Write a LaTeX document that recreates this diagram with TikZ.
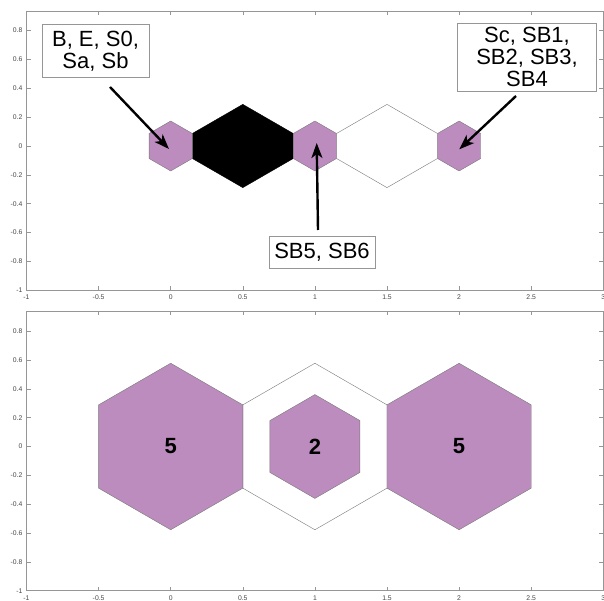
\documentclass[tikz,border=0pt]{standalone}
\usepackage{fontspec}
\setmainfont{Liberation Sans}
\usetikzlibrary{arrows.meta}
\definecolor{hexpink}{RGB}{189,140,191}
\definecolor{axgray}{RGB}{150,150,150}
\definecolor{labgray}{RGB}{70,70,70}
\definecolor{edgegray}{RGB}{120,120,120}
\tikzset{
  axisline/.style={draw=axgray, line width=0.5pt},
  ticklab/.style={font=\fontsize{6.8}{7.5}\selectfont, text=labgray, inner sep=0pt},
  pinkhex/.style={fill=hexpink, draw=edgegray, line width=0.4pt},
  whitehex/.style={fill=white, draw=edgegray, line width=0.4pt},
  blackhex/.style={fill=black, draw=black, line width=0.4pt},
  annot/.style={draw=axgray, fill=white, line width=0.6pt, align=center,
    font=\fontsize{22}{22}\selectfont, inner sep=0pt},
  pointer/.style={line width=2.4pt, -{Stealth[length=15pt,width=11pt,inset=4pt]}},
  numlab/.style={font=\fontsize{22}{22}\selectfont\bfseries, inner sep=0pt},
}
\newcommand{\myaxesframe}[1]{%
  \draw[axisline] (-1,-1) rectangle (3,0.937);
  \foreach \t [count=\i] in {-1,-0.5,0,0.5,1,1.5,2,2.5,3}{
    \draw[axisline] (\t,-1) -- ++(0,0.028) (\t,0.937) -- ++(0,-0.028);
    \node[ticklab, anchor=north] (#1x\i) at ([yshift=-4.5pt]\t,-1) {\t};
  }
  \foreach \v [count=\i] in {-1,-0.8,-0.6,-0.4,-0.2,0,0.2,0.4,0.6,0.8}{
    \draw[axisline] (-1,\v) -- ++(0.028,0) (3,\v) -- ++(-0.028,0);
    \node[ticklab, anchor=east] (#1y\i) at ([xshift=-4pt]-1,\v) {\v};
  }
}
\begin{document}
\begin{tikzpicture}[x=1pt,y=-1pt]
\useasboundingbox (0,0) rectangle (604,601);
\fill[white] (0,0) rectangle (604,601);

% ---------- top plot ----------
\begin{scope}[shift={(170.7pt,-146pt)}, x=144.2pt, y=144.2pt]
  \myaxesframe{t}
  \draw[blackhex] (0.15,0.0866) -- (0.5,0.2887) -- (0.85,0.0866) -- (0.85,-0.0866) -- (0.5,-0.2887) -- (0.15,-0.0866) -- cycle;
  \draw[whitehex] (1.15,0.0866) -- (1.5,0.2887) -- (1.85,0.0866) -- (1.85,-0.0866) -- (1.5,-0.2887) -- (1.15,-0.0866) -- cycle;
  \foreach \c in {0,1,2}{
    \draw[pinkhex] ({\c+0.15},0.0866) -- (\c,0.1732) -- ({\c-0.15},0.0866) -- ({\c-0.15},-0.0866) -- (\c,-0.1732) -- ({\c+0.15},-0.0866) -- cycle;
  }
\end{scope}

% ---------- bottom plot ----------
\begin{scope}[shift={(170.7pt,-446.5pt)}, x=144.2pt, y=144.2pt]
  \myaxesframe{b}
  \draw[whitehex] (1.5,0.2887) -- (1,0.5774) -- (0.5,0.2887) -- (0.5,-0.2887) -- (1,-0.5774) -- (1.5,-0.2887) -- cycle;
  \foreach \c in {0,2}{
    \draw[pinkhex] ({\c+0.5},0.2887) -- (\c,0.5774) -- ({\c-0.5},0.2887) -- ({\c-0.5},-0.2887) -- (\c,-0.5774) -- ({\c+0.5},-0.2887) -- cycle;
  }
  \draw[pinkhex] (1.3118,0.18) -- (1,0.36) -- (0.6882,0.18) -- (0.6882,-0.18) -- (1,-0.36) -- (1.3118,-0.18) -- cycle;
  \node[numlab] (n5a) at (0,0) {5};
  \node[numlab] (n2) at (1,0) {2};
  \node[numlab] (n5b) at (2,0) {5};
\end{scope}

% ---------- annotations ----------
\node[annot, minimum width=107pt, minimum height=53pt] (box1) at (95.5,51.3) {B, E, S0,\\Sa, Sb};
\node[annot, minimum width=139.4pt, minimum height=67.7pt] (box2) at (527,57.2) {Sc, SB1,\\SB2, SB3,\\SB4};
\node[annot, minimum width=106pt, minimum height=32pt] (box3) at (322,252) {SB5, SB6};

\coordinate (a1s) at (110,87);
\coordinate (a1e) at (169,149);
\coordinate (a2s) at (516,96);
\coordinate (a2e) at (459.3,149.3);
\coordinate (a3s) at (318,230);
\coordinate (a3e) at (316.7,143);
\draw[pointer] (a1s) -- (a1e);
\draw[pointer] (a2s) -- (a2e);
\draw[pointer] (a3s) -- (a3e);
\end{tikzpicture}
\end{document}
